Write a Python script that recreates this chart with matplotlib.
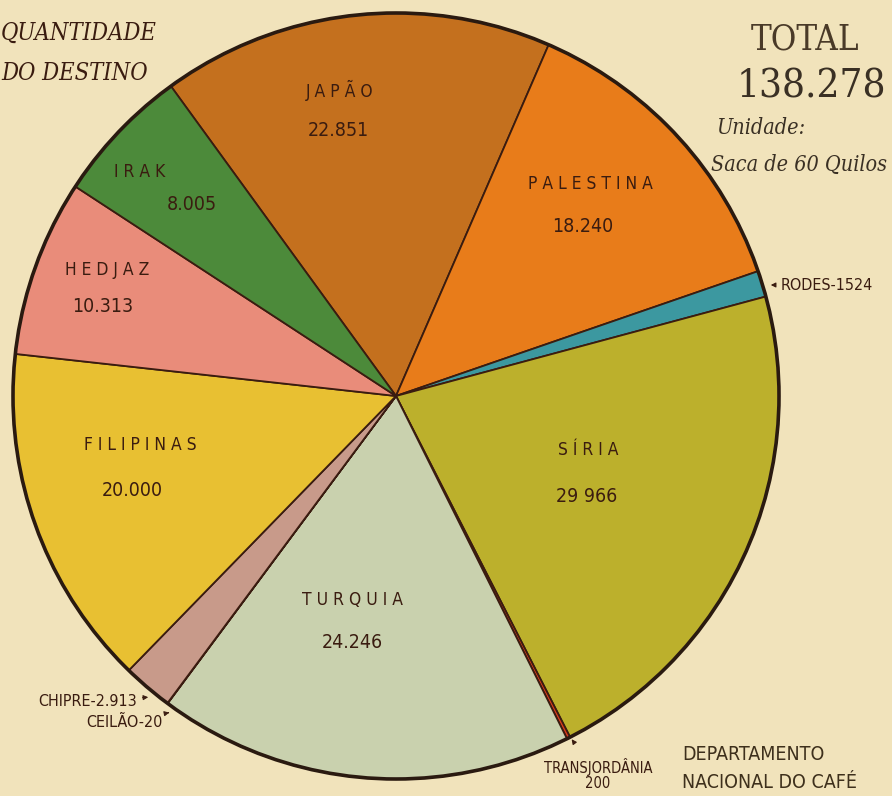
import numpy as np
import matplotlib.pyplot as plt
from matplotlib.patches import Circle

# ==========================================================
# DATA (sacas de 60 quilos)
# ==========================================================
paises = ["JAPÃO", "PALESTINA", "RODES", "SÍRIA", "TRANSJORDÂNIA",
          "TURQUIA", "CEILÃO", "CHIPRE", "FILIPINAS", "HEDJAZ", "IRAK"]
sacas = [22851, 18240, 1524, 29966, 200,
         24246, 20, 2913, 20000, 10313, 8005]
rotulos_valor = ["22.851", "18.240", "1524", "29966", "200",
                 "24.246", "20", "2.913", "20.000", "10.313", "8.005"]
cores = ["#c4701e", "#e87c1a", "#3c98a0", "#bcb02c", "#d83a1c",
         "#c9d1ae", "#b8a088", "#c89a8a", "#e8c032", "#e98c7a", "#4c8a3a"]

total = sum(sacas)

W, H = 892, 796
BG = "#f1e3bb"
INK = "#3a1c10"

def py(y):
    # pixel row -> data y
    return H - y

fig = plt.figure(figsize=(W / 100, H / 100), dpi=100, facecolor=BG)
ax = fig.add_axes([0, 0, 1, 1])
ax.set_facecolor(BG)

cx, cy, r = 396, py(396), 383

wedges, _ = ax.pie(
    sacas,
    colors=cores,
    center=(cx, cy),
    radius=r,
    startangle=126,
    counterclock=False,
    wedgeprops=dict(edgecolor=INK, linewidth=1.3)
)

ax.add_patch(Circle((cx, cy), r, fill=False, edgecolor="#2a1a10", linewidth=2.6))

ax.set_xlim(0, W)
ax.set_ylim(0, H)
ax.set_aspect("equal")
ax.axis("off")

# ==========================================================
# WEDGE LABELS
# ==========================================================
lab = dict(family="DejaVu Sans", stretch="condensed", color=INK)

def spaced(s):
    return " ".join(s)

dentro = {
    "JAPÃO": ((340, 90), (338, 131)),
    "PALESTINA": ((590, 184), (583, 226)),
    "SÍRIA": ((588, 450), (587, 496)),
    "TURQUIA": ((352, 600), (352, 642)),
    "FILIPINAS": ((140, 445), (132, 490)),
    "HEDJAZ": ((107, 270), (103, 306)),
    "IRAK": ((140, 172), (192, 205)),
}

for nome, valor in zip(paises, rotulos_valor):
    if nome in dentro:
        (x1, y1), (x2, y2) = dentro[nome]
        ax.text(x1, py(y1), spaced(nome), ha="center", va="center",
                fontsize=12.5, **lab)
        txt = valor if nome != "SÍRIA" else valor[:2] + " " + valor[2:]
        ax.text(x2, py(y2), txt, ha="center", va="center", fontsize=14, **lab)

# small wedges, outside labels
seta = dict(arrowstyle="-|>", color=INK, lw=0.8, mutation_scale=7)

i = paises.index("RODES")
ax.annotate("RODES-" + rotulos_valor[i], xy=(768, py(285)), xytext=(781, py(285)),
            ha="left", va="center", fontsize=11.5, **lab, arrowprops=seta)

i = paises.index("CHIPRE")
ax.annotate("CHIPRE-" + rotulos_valor[i], xy=(151, py(697)), xytext=(137, py(702)),
            ha="right", va="center", fontsize=11.5, **lab, arrowprops=seta)

i = paises.index("CEILÃO")
ax.annotate("CEILÃO-" + rotulos_valor[i], xy=(172, py(712)), xytext=(163, py(722)),
            ha="right", va="center", fontsize=11.5, **lab, arrowprops=seta)

i = paises.index("TRANSJORDÂNIA")
ax.annotate("TRANSJORDÂNIA\n" + rotulos_valor[i], xy=(570, py(737)), xytext=(598, py(775)),
            ha="center", va="center", fontsize=10.5, linespacing=1.0, **lab,
            arrowprops=dict(seta, shrinkA=12))

# ==========================================================
# TITLES
# ==========================================================
serif = dict(family="DejaVu Serif", stretch="condensed")
ax.text(1, py(33), "QUANTIDADE", ha="left", va="center", fontsize=17,
        style="italic", color=INK, **serif)
ax.text(1, py(73), "DO DESTINO", ha="left", va="center", fontsize=17,
        style="italic", color=INK, **serif)

ax.text(805, py(40), "TOTAL", ha="center", va="center", fontsize=25,
        color="#4a3a28", **serif)
ax.text(811, py(87), f"{total:,}".replace(",", "."), ha="center", va="center",
        fontsize=29, color="#3a3024", **serif)
ax.text(716, py(128), "Unidade:", ha="left", va="center", fontsize=15.5,
        style="italic", color="#3a3024", **serif)
ax.text(887, py(165), "Saca de 60 Quilos", ha="right", va="center", fontsize=15.5,
        style="italic", color="#3a3024", **serif)

ax.text(682, py(755), "DEPARTAMENTO", ha="left", va="center", fontsize=14,
        color="#3e301c", family="DejaVu Sans", stretch="condensed")
ax.text(682, py(782), "NACIONAL DO CAFÉ", ha="left", va="center", fontsize=14,
        color="#3e301c", family="DejaVu Sans", stretch="condensed")

fig.savefig("out.png", dpi=100, facecolor=BG)
